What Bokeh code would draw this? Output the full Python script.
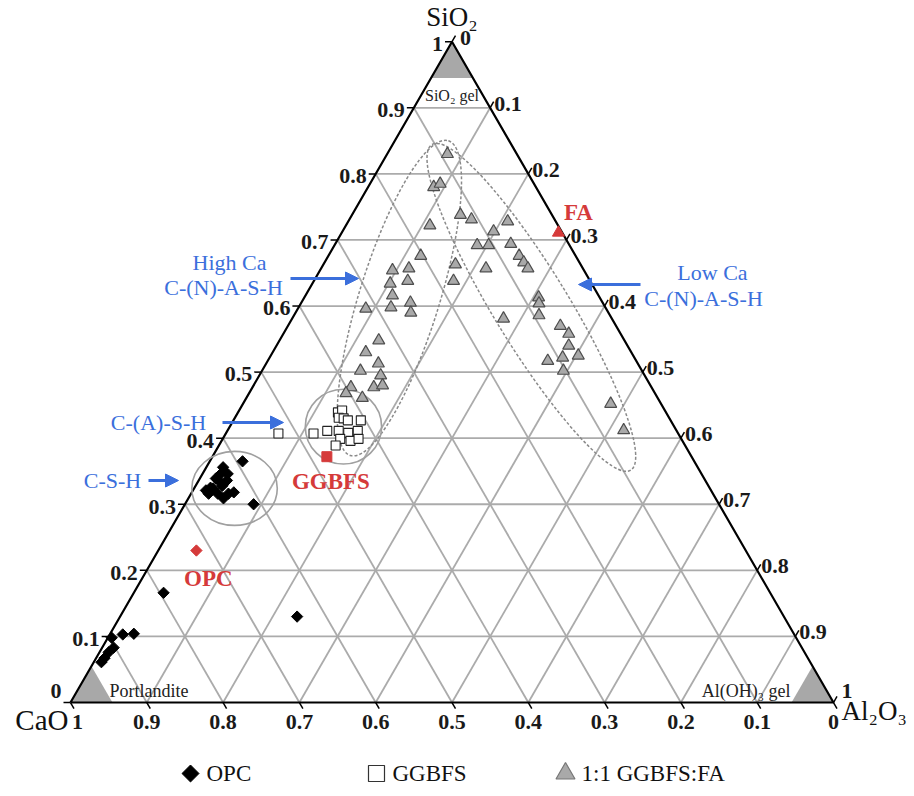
import numpy as np
from bokeh.plotting import figure
from bokeh.models import Range1d, Arrow, NormalHead
from bokeh.core.properties import value
from bokeh.embed import file_html
from bokeh.resources import INLINE

# Oxide mass fractions; CaO = 1 - SiO2 - Al2O3
opc_sio2 = [0.356, 0.346, 0.336, 0.325, 0.316, 0.316, 0.309, 0.316, 0.318, 0.324,
            0.328, 0.346, 0.321, 0.336, 0.339, 0.365, 0.300, 0.166, 0.130,
            0.098, 0.103, 0.104, 0.083, 0.076, 0.067, 0.061]
opc_al2o3 = [0.022, 0.024, 0.026, 0.021, 0.023, 0.035, 0.046, 0.049, 0.055, 0.025,
             0.035, 0.033, 0.017, 0.037, 0.021, 0.043, 0.090, 0.039, 0.232,
             0.005, 0.017, 0.031, 0.015, 0.012, 0.011, 0.010]

ggbfs_sio2 = [0.439, 0.442, 0.431, 0.430, 0.427, 0.407, 0.411, 0.411, 0.408, 0.411,
              0.399, 0.396, 0.399, 0.389, 0.407, 0.427]
ggbfs_al2o3 = [0.131, 0.135, 0.136, 0.143, 0.150, 0.115, 0.131, 0.146, 0.160, 0.171,
               0.154, 0.169, 0.178, 0.153, 0.069, 0.167]

blend_sio2 = [0.830, 0.780, 0.785, 0.738, 0.731, 0.722, 0.713, 0.728, 0.692, 0.692,
              0.694, 0.676, 0.663, 0.638, 0.657, 0.676, 0.666, 0.657, 0.654, 0.657,
              0.634, 0.638, 0.616, 0.605, 0.598, 0.590, 0.596, 0.548, 0.530, 0.513,
              0.502, 0.495, 0.477, 0.477, 0.480, 0.461, 0.468, 0.613, 0.604, 0.586,
              0.581, 0.570, 0.558, 0.540, 0.517, 0.522, 0.525, 0.502, 0.452, 0.412]
blend_al2o3 = [0.079, 0.086, 0.092, 0.142, 0.160, 0.110, 0.198, 0.209, 0.187, 0.202,
               0.230, 0.121, 0.173, 0.183, 0.216, 0.250, 0.261, 0.271, 0.095, 0.115,
               0.102, 0.123, 0.114, 0.143, 0.121, 0.151, 0.089, 0.130, 0.122, 0.147,
               0.129, 0.159, 0.129, 0.159, 0.169, 0.152, 0.127, 0.307, 0.312, 0.321,
               0.277, 0.357, 0.374, 0.383, 0.367, 0.384, 0.403, 0.395, 0.482, 0.519]

# Raw materials
raw_names = ["OPC", "GGBFS", "FA"]
raw_sio2 = [0.230, 0.372, 0.711]
raw_al2o3 = [0.050, 0.150, 0.284]

tick_values = [i / 10 for i in range(11)]
tick_labels = ["0", "0.1", "0.2", "0.3", "0.4", "0.5", "0.6", "0.7", "0.8", "0.9", "1"]

SERIF = value("Liberation Serif")
BLUE = "#3b6fdc"
RED = "#d53a3a"
H = np.sqrt(3) / 2
PX = 763.0  # pixels per unit side length


def to_xy(sio2, al2o3):
    s = np.asarray(sio2, dtype=float)
    a = np.asarray(al2o3, dtype=float)
    return a + s / 2, s * H


def frame(px, py):
    # page pixel -> plot units, for annotation layout
    return (px - 70) / PX, (702 - py) / PX


p = figure(width=914, height=796,
           x_range=Range1d(-70 / PX, 844 / PX), y_range=Range1d(-94 / PX, 702 / PX),
           output_backend="svg", toolbar_location=None, min_border=0,
           x_axis_location=None, y_axis_location=None, outline_line_color=None)
p.grid.visible = False

# grid lines at every 0.1 of each component
gx, gy = [], []
for t in tick_values[1:-1]:
    for s_pair, a_pair in [((t, t), (0, 1 - t)), ((0, 1 - t), (t, t)), ((0, 1 - t), (1 - t, 0))]:
        x, y = to_xy(s_pair, a_pair)
        gx.append(list(x))
        gy.append(list(y))
p.multi_line(gx, gy, line_color="#ababab", line_width=1.8)

# shaded phase corners
k = 0.055
corner_s = [[1, 1 - k, 1 - k], [0, 0, k], [0, 0, k]]
corner_a = [[0, 0, k], [0, k, 0], [1, 1 - k, 1 - k]]
cxs, cys = [], []
for cs, ca in zip(corner_s, corner_a):
    x, y = to_xy(cs, ca)
    cxs.append(list(x))
    cys.append(list(y))
p.patches(cxs, cys, fill_color="#a8a8a8", line_color=None)

# triangle frame
fx, fy = to_xy([0, 0, 1, 0], [0, 1, 0, 0])
p.line(fx, fy, line_color="black", line_width=2.2)

# tick marks
d = 7 / PX
tx, ty = [], []
for t in tick_values:
    x0, y0 = to_xy(t, 0)
    tx.append([float(x0), float(x0) - d]); ty.append([float(y0), float(y0)])
    x0, y0 = to_xy(0, 1 - t)
    tx.append([float(x0), float(x0) + d * 0.5]); ty.append([float(y0), float(y0) - d * H])
    x0, y0 = to_xy(1 - t, t)
    tx.append([float(x0), float(x0) + d * 0.5]); ty.append([float(y0), float(y0) + d * H])
p.multi_line(tx, ty, line_color="black", line_width=1.5)

# region outlines
ell_s = [0.612, 0.598]
ell_a = [0.125, 0.305]
ex, ey = to_xy(ell_s, ell_a)
p.ellipse(ex, ey, width=[0.432, 0.50], height=[0.105, 0.098],
          angle=[np.deg2rad(72.7), np.deg2rad(-58.6)],
          fill_color=None, line_color="#8a8a8a", line_width=1.5, line_dash="3 2")
cx, cy = to_xy([0.324, 0.4175], [0.053, 0.149])
p.ellipse(cx, cy, width=[0.112, 0.100], height=[0.097, 0.098],
          fill_color=None, line_color="#a0a0a0", line_width=1.6)

# data points
x, y = to_xy(blend_sio2, blend_al2o3)
p.scatter(x, y, marker="triangle", size=12, fill_color="#a9a9a9",
          line_color="#4d4d4d", line_width=1.2)
x, y = to_xy(ggbfs_sio2, ggbfs_al2o3)
p.scatter(x, y, marker="square", size=9, fill_color="white",
          line_color="#222222", line_width=1.1)
x, y = to_xy(opc_sio2, opc_al2o3)
p.scatter(x, y, marker="square", angle=np.pi / 4, size=8, fill_color="black",
          line_color="black")

rx, ry = to_xy(raw_sio2, raw_al2o3)
p.scatter(rx[:1], ry[:1], marker="square", angle=np.pi / 4, size=8,
          fill_color=RED, line_color=RED)
p.scatter(rx[1:2], ry[1:2], marker="square", size=10, fill_color=RED, line_color=RED)
p.scatter(rx[2:], ry[2:], marker="triangle", size=12, fill_color=RED, line_color=RED)
p.text(rx, ry, text=raw_names, x_offset=[12, 4, 20], y_offset=[28, 25, -20],
       text_align="center", text_baseline="middle", text_font=SERIF,
       text_font_size="23px", text_font_style="bold", text_color=RED)

# axis labels: SiO2 on the left edge, Al2O3 on the right edge, CaO along the base
lx, ly = to_xy(tick_values, [0] * 11)
p.text(lx, ly, text=tick_labels, x_offset=-9,
       y_offset=[-12, 3, 3, 3, 3, 2, 2, 2, 2, 2, 2],
       text_align="right", text_baseline="middle", text_font=SERIF,
       text_font_size="22px", text_font_style="bold", text_color="#1a1a1a")
bx, by = to_xy([0] * 11, [1 - t for t in tick_values])
p.text(bx, by, text=tick_labels, x_offset=[0] * 10 + [7], y_offset=19,
       text_align="center", text_baseline="middle", text_font=SERIF,
       text_font_size="22px", text_font_style="bold", text_color="#1a1a1a")
rxs, rys = to_xy([1 - t for t in tick_values], tick_values)
p.text(rxs, rys, text=tick_labels, x_offset=[8] + [4] * 9 + [8],
       y_offset=[-4] * 10 + [-12],
       text_align="left", text_baseline="middle", text_font=SERIF,
       text_font_size="22px", text_font_style="bold", text_color="#1a1a1a")

# vertex names
vx, vy = to_xy([1, 0, 0], [0, 0, 1])
p.text(vx[:1], vy[:1], text=["SiO₂"], y_offset=-25, text_align="center",
       text_baseline="middle", text_font=SERIF, text_font_size="27px", text_color="#111111")
p.text(vx[1:2], vy[1:2], text=["CaO"], x_offset=-2, y_offset=17, text_align="right",
       text_baseline="middle", text_font=SERIF, text_font_size="29px", text_color="#111111")
p.text(vx[2:], vy[2:], text=["Al₂O₃"], x_offset=8, y_offset=8, text_align="left",
       text_baseline="middle", text_font=SERIF, text_font_size="27px", text_color="#111111")

# phase labels in the corners
p.text(vx[:1], vy[:1], text=["SiO₂ gel"], y_offset=54, text_align="center",
       text_baseline="middle", text_font=SERIF, text_font_size="16px", text_color="#222222")
p.text(vx[1:2], vy[1:2], text=["Portlandite"], x_offset=39, y_offset=-12, text_align="left",
       text_baseline="middle", text_font=SERIF, text_font_size="18px", text_color="#222222")
p.text(vx[2:], vy[2:], text=["Al(OH)₃ gel"], x_offset=-43, y_offset=-12, text_align="right",
       text_baseline="middle", text_font=SERIF, text_font_size="18px", text_color="#222222")

# gel annotations with arrows
arrows = [((290, 278), (358, 278)), ((640, 284), (578, 284)),
          ((222, 422), (283, 422)), ((148, 480), (178, 480))]
for (x0, y0), (x1, y1) in arrows:
    xs, ys = frame(x0, y0)
    xe, ye = frame(x1, y1)
    p.add_layout(Arrow(x_start=xs, y_start=ys, x_end=xe, y_end=ye,
                       line_color=BLUE, line_width=3,
                       end=NormalHead(size=13, fill_color=BLUE, line_color=BLUE)))

gel_text = ["High Ca", "C-(N)-A-S-H", "Low Ca", "C-(N)-A-S-H", "C-(A)-S-H", "C-S-H"]
gel_pos = [frame(229, 262), frame(223, 287), frame(712, 272), frame(703, 298),
           frame(158, 422), frame(112, 480)]
p.text([g[0] for g in gel_pos], [g[1] for g in gel_pos], text=gel_text,
       text_align="center", text_baseline="middle", text_font=SERIF,
       text_font_size="22px", text_color=BLUE)

# legend row
leg_labels = ["OPC", "GGBFS", "1:1 GGBFS:FA"]
m = [frame(190, 773), frame(376, 773), frame(565, 773)]
p.scatter([m[0][0]], [m[0][1]], marker="square", angle=np.pi / 4, size=12,
          fill_color="black", line_color="black")
p.scatter([m[1][0]], [m[1][1]], marker="square", size=16, fill_color="white",
          line_color="#333333", line_width=1.2)
p.scatter([m[2][0]], [m[2][1]], marker="triangle", size=19, fill_color="#a9a9a9",
          line_color="#777777", line_width=1.2)
p.text([mm[0] for mm in m], [mm[1] for mm in m], text=leg_labels, x_offset=16,
       text_align="left", text_baseline="middle", text_font=SERIF,
       text_font_size="23px", text_color="#111111")

open("out.html", "w").write(file_html(p, INLINE))
